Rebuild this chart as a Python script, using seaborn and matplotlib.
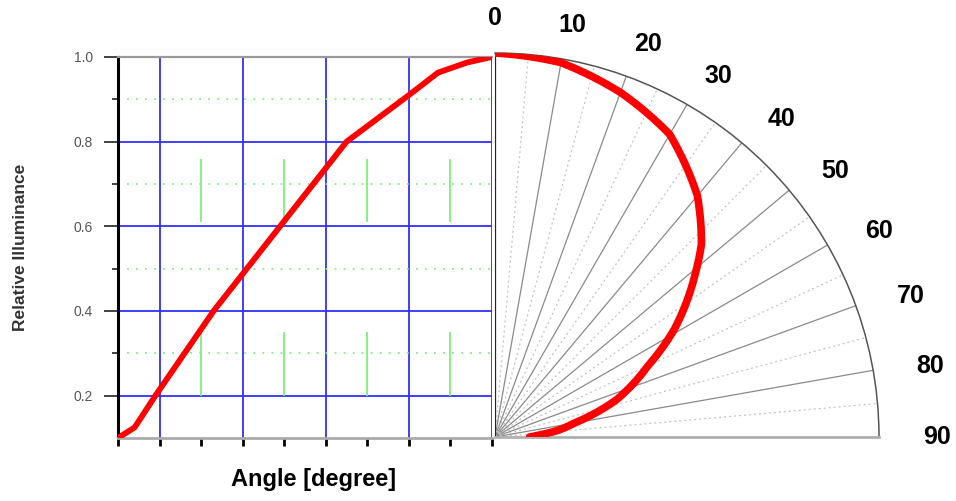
import numpy as np
import pandas as pd
import matplotlib
matplotlib.use("Agg")
import matplotlib.pyplot as plt
from matplotlib.ticker import FixedLocator
import seaborn as sns

# left panel: relative illuminance vs angle (0 deg on the right)
angle_deg = [90, 86, 81, 74, 67, 61, 51, 41, 35, 20, 13, 6, 1, 0]
illum = [0.10, 0.125, 0.20, 0.30, 0.40, 0.475, 0.60, 0.725, 0.80, 0.91, 0.963, 0.987, 0.998, 1.0]

# right panel: polar distribution
polar_deg = [0, 10, 20, 30, 40, 47, 51, 59, 65, 73, 80, 84, 87, 90]
polar_r = [1.0, 0.99, 0.955, 0.91, 0.82, 0.735, 0.67, 0.545, 0.44, 0.33, 0.21, 0.165, 0.12, 0.09]
polar_labels = ["0", "10", "20", "30", "40", "50", "60", "70", "80", "90"]

y_ticklabels = ["0.2", "0.4", "0.6", "0.8", "1.0"]

sns.set_style("white")
plt.rcParams["font.family"] = ["Liberation Sans", "DejaVu Sans"]
plt.rcParams["text.color"] = "black"

W, H = 956, 501
fig = plt.figure(figsize=(W / 100, H / 100), dpi=100)

BLUE = "#3030ff"
GREEN = "#7ef07e"
RED = "#ff0000"

# ---- left cartesian panel
ax = fig.add_axes([118 / W, (H - 438) / H, 374 / W, 381 / H])
df = pd.DataFrame({"angle": angle_deg, "illum": illum})
sns.lineplot(data=df, x="angle", y="illum", ax=ax, sort=False, color=RED,
             lw=4.2, zorder=5, solid_capstyle="round")
ax.set_xlim(90, 0)
ax.set_ylim(0.1, 1.0)

ax.xaxis.set_major_locator(FixedLocator([80, 60, 40, 20, 0]))
ax.xaxis.set_minor_locator(FixedLocator([90, 70, 50, 30, 10]))
ax.yaxis.set_major_locator(FixedLocator([0.2, 0.4, 0.6, 0.8, 1.0]))
ax.yaxis.set_minor_locator(FixedLocator([0.3, 0.5, 0.7, 0.9]))
ax.set_xticklabels([])
ax.set_xticklabels([], minor=True)
ax.set_yticklabels(y_ticklabels)

ax.tick_params(axis="x", which="both", direction="out", length=6, width=2,
               color="black", bottom=True)
ax.tick_params(axis="y", which="major", direction="out", length=10, width=1.2,
               color="#222222", left=True, labelsize=10, labelcolor="#555555", pad=8)
ax.tick_params(axis="y", which="minor", direction="out", length=4, width=1.2,
               color="#222222", left=True)

ax.grid(which="major", color=BLUE, lw=1.3, ls="-")
ax.grid(which="minor", axis="y", color=GREEN, lw=1.3, ls=(0, (1, 4)))
ax.grid(which="minor", axis="x", visible=False)
ax.vlines([70, 50, 30, 10], 0.2, 0.35, color=GREEN, lw=1.3, zorder=1)
ax.vlines([70, 50, 30, 10], 0.61, 0.76, color=GREEN, lw=1.3, zorder=1)
ax.set_axisbelow(True)

ax.spines["right"].set_visible(False)
ax.spines["left"].set_color("black")
ax.spines["left"].set_linewidth(2.2)
ax.spines["top"].set_color("#999999")
ax.spines["top"].set_linewidth(1.6)
ax.spines["bottom"].set_color("#aaaaaa")
ax.spines["bottom"].set_linewidth(2)

ax.set_xlabel("Angle [degree]", fontsize=17, fontweight="bold", va="center",
              color="black")
ax.xaxis.set_label_coords(0.524, -0.11)
ax.set_ylabel("Relative Illuminance", fontsize=12.5, fontweight="bold",
              color="#333333", va="center")
ax.yaxis.set_label_coords(-0.262, 0.5)

# ---- right polar panel
R = 384
pax = fig.add_axes([495 / W, (H - 437) / H, R / W, R / H], projection="polar")
pax.set_theta_zero_location("N")
pax.set_theta_direction(-1)
pax.set_thetamin(0)
pax.set_thetamax(90)
pax.set_ylim(0, 1.0)
pax.set_yticks([])

pax.set_xticks(np.deg2rad(np.arange(0, 91, 10)))
pax.set_xticks(np.deg2rad(np.arange(5, 90, 10)), minor=True)
pax.set_xticklabels([])
pax.grid(which="major", axis="x", color="#8a8a8a", lw=0.9, ls="-")
pax.grid(which="minor", axis="x", color="#c0c0c0", lw=0.9, ls=(0, (1.5, 2.5)))
pax.tick_params(axis="x", which="both", direction="in", length=5, width=1,
                color="#555555")

pax.spines["polar"].set_color("#555555")
pax.spines["polar"].set_linewidth(1.1)
pax.spines["start"].set_visible(False)
pax.spines["end"].set_color("#b0b0b0")
pax.spines["end"].set_linewidth(2)

pdf = pd.DataFrame({"theta": np.deg2rad(polar_deg), "r": polar_r})
sns.lineplot(data=pdf, x="theta", y="r", ax=pax, sort=False, color=RED,
             lw=5.5, zorder=5, solid_capstyle="round")
# let the polar transform draw the segments as curves
for ln in pax.get_lines():
    ln.get_path()._interpolation_steps = 40
pax.set_xlabel("")
pax.set_ylabel("")

for lab in polar_labels:
    a = float(lab)
    ar = np.deg2rad(a + 2 * np.sin(np.deg2rad(2 * a)))
    rr = 1.09 + 0.06 * np.sin(np.deg2rad(a)) ** 2
    pax.text(ar, rr, lab, fontsize=18, fontweight="bold", ha="center",
             va="center", color="black", clip_on=False)

fig.savefig("out.png", dpi=100)
